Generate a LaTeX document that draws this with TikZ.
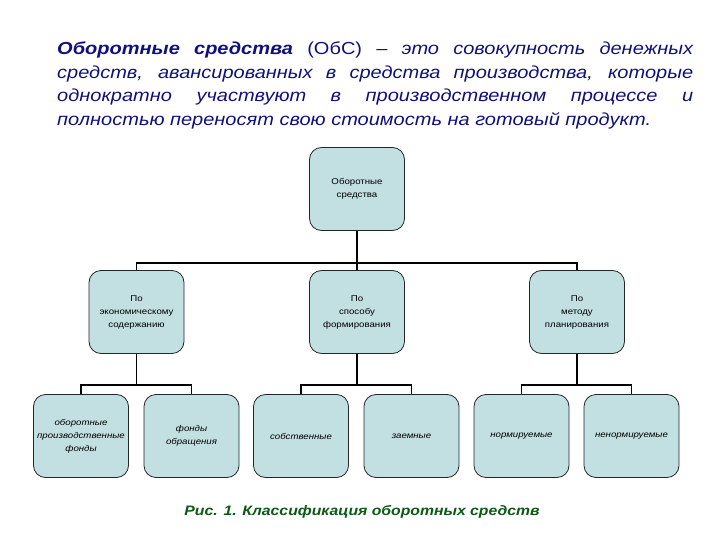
\documentclass[tikz,border=0pt]{standalone}
\usepackage{fontspec}
\setmainfont[FakeStretch=1.15]{Liberation Sans}
\usetikzlibrary{calc}
\definecolor{navy}{HTML}{10107A}
\definecolor{boxfill}{HTML}{C2DFE2}
\definecolor{capgreen}{HTML}{0A5A14}
\tikzset{
  box/.style={draw=black!85, line width=0.8pt, fill=boxfill, rounded corners=12pt,
    minimum width=93pt, minimum height=83pt, inner sep=1pt, align=center,
    font=\fontsize{8.4}{13}\selectfont, text width=93pt},
  leaf/.style={box, font=\fontsize{8.4}{13}\selectfont\itshape},
  conn/.style={draw=black, line width=1.8pt},
  tline/.style={anchor=base west, inner sep=0pt, text=navy,
    font=\fontsize{17.4}{23.4}\selectfont\itshape}
}
\begin{document}
\begin{tikzpicture}[x=1pt,y=-1pt]
\useasboundingbox (0,0) rectangle (720,540);
% title text
\node[tline] (t1) at (57,55) {\makebox[636pt][s]{\textbf{Оборотные средства} \textup{(ОбС)} – это совокупность денежных}};
\node[tline] (t2) at (57,78.4) {\makebox[636pt][s]{средств, авансированных в средства производства, которые}};
\node[tline] (t3) at (57,101.8) {\makebox[636pt][s]{однократно участвуют в производственном процессе и}};
\node[tline] (t4) at (57,125.2) {полностью переносят свою стоимость на готовый продукт.};
% boxes
\node[box] (top) at (357,189) {Оборотные\\средства};
\node[box] (a) at (136.5,312) {По\\экономическому\\содержанию};
\node[box] (b) at (357,312) {По\\способу\\формирования};
\node[box] (c) at (577,312) {По\\методу\\планирования};
\node[leaf] (a1) at (81,436) {оборотные\\производственные\\фонды};
\node[leaf] (a2) at (191.5,436) {фонды\\обращения};
\node[leaf] (b1) at (301,436) {собственные};
\node[leaf] (b2) at (411.5,436) {заемные};
\node[leaf] (c1) at (521.5,436) {нормируемые};
\node[leaf] (c2) at (631.5,436) {ненормируемые};
% connectors
\coordinate (h1) at (357,263);
\draw[conn] (top.south) -- (h1);
\draw[conn] (a.north) |- (h1) -| (c.north);
\draw[conn] (h1) -- (b.north);
\foreach \p/\l/\r in {a/a1/a2, b/b1/b2, c/c1/c2}{
  \coordinate (\p h) at ($(\p.south)+(0,31)$);
  \draw[conn] (\p.south) -- (\p h);
  \draw[conn] (\l.north) |- (\p h) -| (\r.north);
}
% caption
\node[text=capgreen, font=\fontsize{13.7}{16}\selectfont\bfseries\itshape] (cap) at (362,512) {Рис. 1. Классификация оборотных средств};
\end{tikzpicture}
\end{document}
